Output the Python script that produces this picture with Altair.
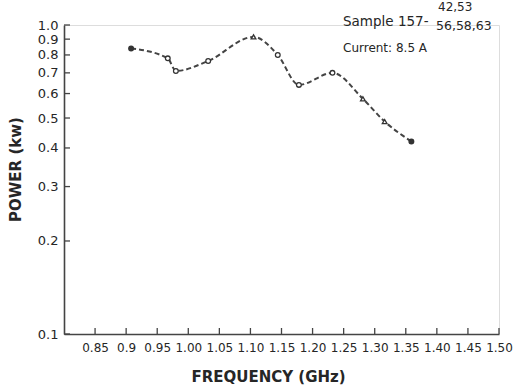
import altair as alt
import pandas as pd

# data
freq = [0.908, 0.967, 0.980, 1.032, 1.105, 1.144, 1.178, 1.232, 1.281, 1.316, 1.359]
power = [0.84, 0.78, 0.71, 0.765, 0.915, 0.80, 0.64, 0.70, 0.577, 0.487, 0.42]
marker = ["filled", "open", "open", "open", "triangle", "open", "open", "open",
          "triangle", "triangle", "filled"]

x_ticks = [0.85, 0.9, 0.95, 1.00, 1.05, 1.10, 1.15, 1.20, 1.25, 1.30, 1.35, 1.40, 1.45, 1.50]
y_ticks = [0.1, 0.2, 0.3, 0.4, 0.5, 0.6, 0.7, 0.8, 0.9, 1.0]

sample_text = ["Sample 157-"]
sample_top = ["42,53"]
sample_bottom = ["56,58,63"]
current_text = ["Current: 8.5 A"]

W, H = 435, 309
FONT = "DejaVu Sans"
INK = "#262626"

df = pd.DataFrame({"f": freq, "p": power, "m": marker})
xt = pd.DataFrame({"f": x_ticks})
yt = pd.DataFrame({"p": y_ticks})

xscale = alt.Scale(domain=[0.8, 1.5], nice=False, zero=False)
yscale = alt.Scale(type="log", domain=[0.1, 1.0], nice=False)

xaxis = alt.Axis(values=x_ticks, ticks=False, grid=False, domainColor="#444",
                 domainWidth=1.6, labelFont=FONT, labelFontSize=12, labelColor=INK,
                 labelPadding=8, labelFlush=False, labelOverlap=False,
                 labelExpr="datum.value == 0.9 ? '0.9' : format(datum.value, '.2f')",
                 title="FREQUENCY (GHz)", titleFont=FONT, titleFontSize=15,
                 titleFontWeight="bold", titleColor=INK, titlePadding=16,
                 titleX=204, titleAnchor="start", titleAlign="center")
yaxis = alt.Axis(values=y_ticks, ticks=False, grid=False, domainColor="#444",
                 domainWidth=1.6, labelFont=FONT, labelFontSize=13, labelColor=INK,
                 labelPadding=6, format=".1f", labelFlush=False, labelOverlap=False,
                 title="POWER (kw)", titleFont=FONT, titleFontSize=15,
                 titleFontWeight="bold", titleColor=INK, titlePadding=14,
                 titleY=144, titleAnchor="start", titleAlign="center")

X = alt.X("f:Q", scale=xscale, axis=xaxis)
Y = alt.Y("p:Q", scale=yscale, axis=yaxis)

line = alt.Chart(df).mark_line(strokeDash=[5, 3], color="#444", strokeWidth=2,
                               interpolate="monotone").encode(x=X, y=Y)

pts = alt.Chart(df).mark_point(size=22, strokeWidth=1.3, opacity=1).encode(
    x=X, y=Y,
    shape=alt.Shape("m:N", scale=alt.Scale(domain=["filled", "open", "triangle"],
                                           range=["circle", "circle", "triangle-up"]),
                    legend=None),
    fill=alt.Fill("m:N", scale=alt.Scale(domain=["filled", "open", "triangle"],
                                         range=["#333", "white", "white"]),
                  legend=None),
    color=alt.value("#333"),
)

xtick = alt.Chart(xt).mark_rule(color="#444", strokeWidth=1.3).encode(
    x=X, y=alt.value(H), y2=alt.value(H - 6),
)
ytick = alt.Chart(yt).mark_rule(color="#444", strokeWidth=1.3).encode(
    y=Y, x=alt.value(0), x2=alt.value(6),
)

def label(txt, x, y, size, align="left", weight="normal"):
    return alt.Chart(pd.DataFrame({"t": txt})).mark_text(
        font=FONT, fontSize=size, color=INK, align=align, baseline="middle",
        fontWeight=weight
    ).encode(text="t:N", x=alt.value(x), y=alt.value(y))

ann = (label(sample_text, 279, -3, 13.5)
       + label(sample_top, 374, -18, 12)
       + label(sample_bottom, 372, 1, 12.5)
       + label(current_text, 279, 23, 12))

chart = alt.layer(line, pts, xtick, ytick, ann).properties(
    width=W, height=H,
    autosize=alt.AutoSizeParams(type="none"),
    padding={"left": 64, "top": 25, "right": 19, "bottom": 57},
).configure_view(strokeWidth=0, stroke="transparent").configure(background="white")

chart.save("out.html", embed_options={"renderer": "svg", "actions": False})
